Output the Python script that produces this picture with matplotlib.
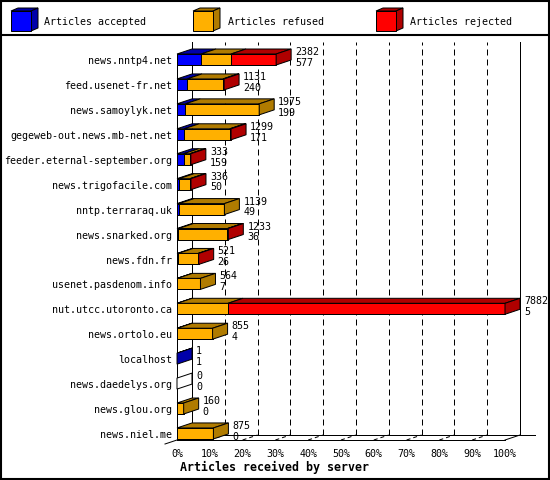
import numpy as np
import matplotlib
matplotlib.use('Agg')
import matplotlib.pyplot as plt
from matplotlib.patches import Polygon, Rectangle
from matplotlib.transforms import ScaledTranslation

plt.rcParams['font.family'] = 'DejaVu Sans Mono'
plt.rcParams['font.size'] = 7.2

hosts = ['news.nntp4.net', 'feed.usenet-fr.net', 'news.samoylyk.net',
         'gegeweb-out.news.mb-net.net', 'feeder.eternal-september.org',
         'news.trigofacile.com', 'nntp.terraraq.uk', 'news.snarked.org',
         'news.fdn.fr', 'usenet.pasdenom.info', 'nut.utcc.utoronto.ca',
         'news.ortolo.eu', 'localhost', 'news.daedelys.org', 'news.glou.org',
         'news.niel.me']
accepted = [577, 240, 199, 171, 159, 50, 49, 36, 26, 7, 5, 4, 1, 0, 0, 0]
refused = [721, 865, 1776, 1098, 150, 264, 1090, 1177, 480, 557, 1220, 851,
           0, 0, 160, 875]
rejected = [1084, 26, 0, 30, 24, 22, 0, 20, 15, 0, 6657, 0, 0, 0, 0, 0]

series = ['Articles accepted', 'Articles refused', 'Articles rejected']
front_colors = ['#0000ff', '#ffb000', '#ff0000']
dark_colors = ['#0000aa', '#b07b00', '#b00000']

counts = np.array([accepted, refused, rejected], dtype=float)
totals = counts.sum(axis=0)
pct = counts / totals.max() * 100
rows = np.arange(len(hosts))

LW = 0.72  # one pixel
fig = plt.figure(figsize=(5.5, 4.8), dpi=100)

# frame and legend, drawn in pixel units
ov = fig.add_axes([0, 0, 1, 1])
ov.set_xlim(0, 550)
ov.set_ylim(480, 0)
ov.axis('off')
ov.add_patch(Rectangle((1, 1), 548, 478, fill=False, lw=1.5, ec='black'))
ov.plot([0, 550], [34.5, 34.5], color='black', lw=1.5)
for x0, tx, name, fc, dc in zip([11, 193, 376], [44.5, 228, 410.5], series,
                                front_colors, dark_colors):
    ov.add_patch(Polygon([(x0, 11), (x0 + 20, 11), (x0 + 27, 8), (x0 + 7, 8)],
                         fc=dc, ec='black', lw=LW))
    ov.add_patch(Polygon([(x0 + 20, 11), (x0 + 27, 8), (x0 + 27, 28), (x0 + 20, 31)],
                         fc=dc, ec='black', lw=LW))
    ov.add_patch(Rectangle((x0, 11), 20, 20, fc=fc, ec='black', lw=LW))
    ov.text(tx, 25, name, va='baseline', ha='left')

# main chart, front plane
row_px = 24.93
ybot, ytop = 380.5 / row_px, -17.5 / row_px
ax = fig.add_axes([177 / 550, 40 / 480, 328 / 550, 398 / 480])
ax.patch.set_visible(False)
ax.set_xlim(0, 100)
ax.set_ylim(ybot, ytop)
for s in ['top', 'right', 'left']:
    ax.spines[s].set_visible(False)
ax.spines['bottom'].set_linewidth(LW)

px_x = 100 / 328
px_y = 1 / row_px
dx, dy = 15 * px_x, 5 * px_y
h = 11 * px_y

line = dict(color='black', lw=LW, clip_on=False)
# back walls and grid
ax.plot([dx, dx], [ybot - dy, ytop], **line)
ax.plot([100 + dx, 100 + dx], [ybot - dy, ytop], **line)
for t in range(10, 100, 10):
    ax.plot([t + dx, t + dx], [ybot - dy, ytop], ls=(0, (6, 4)), **line)
    ax.plot([t, t + dx], [ybot, ybot - dy], ls=(0, (4, 3)), **line)
ax.plot([dx, 100 + 2 * dx], [ybot - dy, ybot - dy], **line)
ax.plot([-12 * px_x, dx], [ybot + 4 * px_y, ybot - dy], **line)
ax.plot([100, 100 + dx], [ybot, ybot - dy], **line)
ax.plot([0, 0], [ybot, -h / 2], **line)

# bars
lefts = np.vstack([np.zeros(len(hosts)), np.cumsum(pct, axis=0)[:-1]])
for k in range(3):
    ax.barh(rows, pct[k], left=lefts[k], height=h, color=front_colors[k],
            edgecolor='black', lw=LW, zorder=3, clip_on=False)

for i in rows:
    yt, yb = i - h / 2, i + h / 2
    last = None
    for k in range(3):
        if counts[k, i] == 0:
            continue
        a, b = lefts[k, i], lefts[k, i] + pct[k, i]
        ax.add_patch(Polygon([(a, yt), (b, yt), (b + dx, yt - dy), (a + dx, yt - dy)],
                             fc=dark_colors[k], ec='black', lw=LW, zorder=3,
                             clip_on=False))
        last = k
    e = pct[:, i].sum()
    side = dark_colors[last] if last is not None else 'white'
    ax.add_patch(Polygon([(e, yt), (e + dx, yt - dy), (e + dx, yb - dy), (e, yb)],
                         fc=side, ec='black', lw=LW, zorder=3, clip_on=False))
    tx = e + dx + 4 * px_x
    ax.text(tx, i - 4.5 * px_y, '%d' % totals[i], va='baseline', ha='left')
    ax.text(tx, i + 6.3 * px_y, '%d' % accepted[i], va='baseline', ha='left')

# axis labels
ax.set_yticks(rows)
ax.set_yticklabels(hosts)
ax.tick_params(axis='y', length=0, pad=3.6)
shift = ScaledTranslation(0, -4.6 / 100, fig.dpi_scale_trans)
for lab in ax.get_yticklabels():
    lab.set_va('baseline')
    lab.set_transform(lab.get_transform() + shift)

ticks = list(range(0, 101, 10))
ax.set_xticks(ticks)
ax.set_xticklabels(['%d%%' % t for t in ticks])
ax.tick_params(axis='x', length=0, pad=12.2)
plt.setp(ax.get_xticklabels(), va='baseline')

ax.set_xlabel('Articles received by server', fontweight='bold', fontsize=8.4)
ax.xaxis.set_label_coords((274 - 177) / 328, (440 - 471) / 398)
ax.xaxis.label.set_va('baseline')

fig.savefig('out.png', dpi=100)
